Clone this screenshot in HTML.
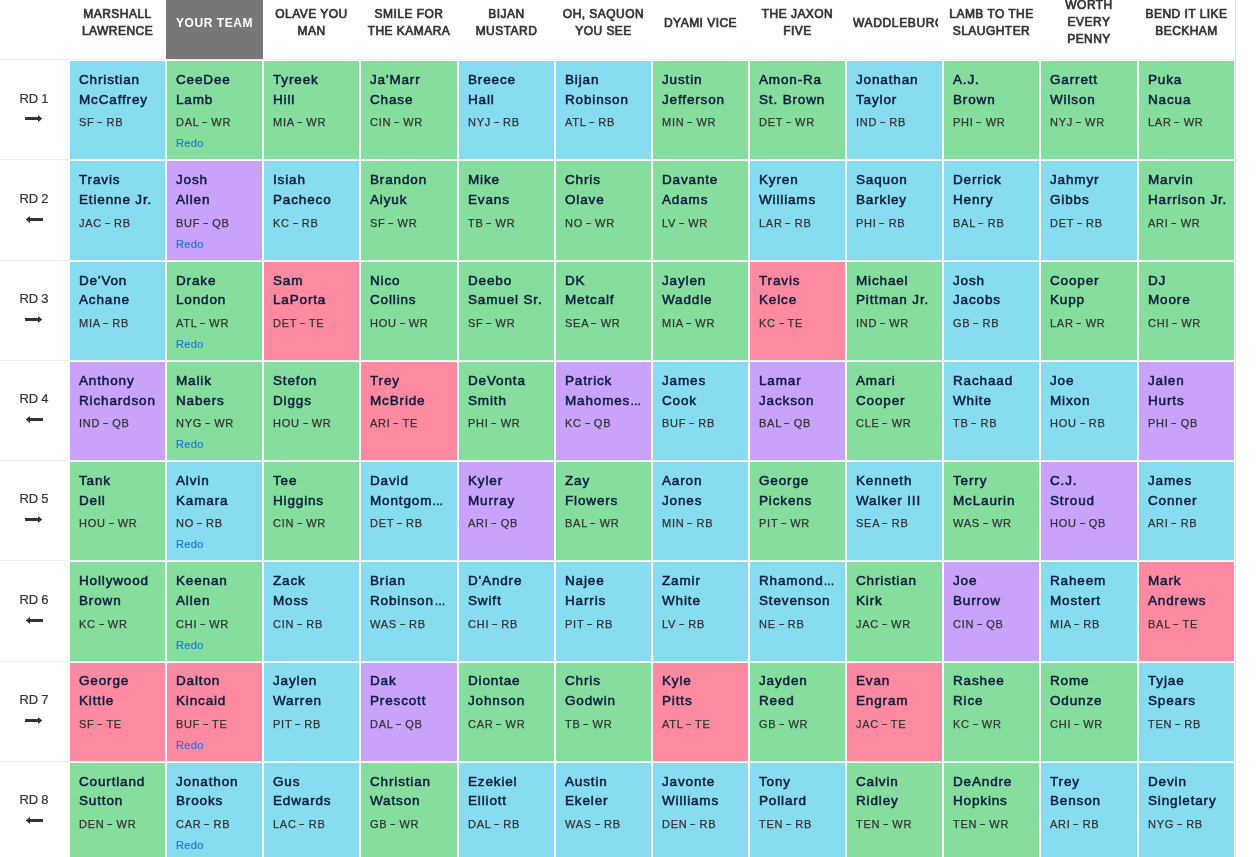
<!DOCTYPE html>
<html lang="en"><head><meta charset="utf-8"><title>Draft Board</title>
<style>
html,body{margin:0;padding:0;background:#fff;}
body{width:1256px;height:857px;overflow:hidden;font-family:"Liberation Sans",sans-serif;}
.board{position:relative;width:1256px;height:857px;overflow:hidden;}
.hline{position:absolute;left:0;width:1235px;height:1px;background:#eef1f3;}
.vline{position:absolute;left:1235px;top:0;width:1px;height:857px;background:#dee2e6;}
.th{position:absolute;top:-15px;height:74px;padding-top:1px !important;display:flex;align-items:center;justify-content:center;text-align:center;overflow:hidden;white-space:nowrap;
 font-size:12px;font-weight:400;letter-spacing:.46px;-webkit-text-stroke:.7px #333;line-height:16.7px;color:#333;box-sizing:border-box;padding:0 5px;}
.th span{display:block;width:100%;text-align:center;overflow:hidden;}
.th.long{letter-spacing:.65px;padding:0 5px 0 7px;}
.th.one span{position:relative;top:1px;}
.th.you{background:#777;color:#fff;font-weight:700;letter-spacing:.55px;-webkit-text-stroke:0;}
.row{position:absolute;left:0;width:1236px;}
.rd{position:absolute;left:0;top:0;width:68px;height:100%;text-align:center;color:#333;}
.rdt{position:absolute;left:0;width:68px;top:var(--lb);font-size:13px;line-height:16px;word-spacing:-.5px;-webkit-text-stroke:.2px #333;}
.ar{position:absolute;left:25px;top:var(--ar);fill:#333;}
.c{position:absolute;top:0;height:100%;overflow:hidden;white-space:nowrap;}
.rb{background:#87dcef;}
.wr{background:#86de9e;}
.qb{background:#c8a2fb;}
.te{background:#fe8aa2;}
.n,.p,.redo{position:absolute;left:9px;}
.n1{top:var(--n1);}
.n2{top:var(--n2);}
.n{font-family:"Liberation Sans", sans-serif;font-size:13.5px;font-weight:400;letter-spacing:0.85px;line-height:20px;color:#0c1c3e;-webkit-text-stroke:0.5px #0c1c3e;}
.p{font-size:11px;letter-spacing:.75px;-webkit-text-stroke:.25px #333;line-height:16px;color:#333;top:var(--p);}
.redo{display:block;font-size:11px;letter-spacing:.35px;line-height:16px;color:#1f74e6;-webkit-text-stroke:.2px #1f74e6;top:var(--rd);}
.e{font-size:11px;letter-spacing:0;}
.sp{word-spacing:-2.5px;}
.h{display:inline-block;transform:scaleX(1.6);-webkit-text-stroke:.3px #333;position:relative;top:-1.5px;}

</style></head>
<body>
<div class="board">
<div class="hline" style="top:59px"></div>
<div class="vline"></div>
<div class="th" style="left:69px;width:97px"><span>MARSHALL<br>LAWRENCE</span></div>
<div class="th you one" style="left:166px;width:97px"><span>YOUR TEAM</span></div>
<div class="th" style="left:263px;width:97px"><span>OLAVE YOU<br>MAN</span></div>
<div class="th" style="left:360px;width:98px"><span>SMILE FOR<br>THE KAMARA</span></div>
<div class="th" style="left:458px;width:97px"><span>BIJAN<br>MUSTARD</span></div>
<div class="th" style="left:555px;width:97px"><span>OH, SAQUON<br>YOU SEE</span></div>
<div class="th one" style="left:652px;width:97px"><span>DYAMI VICE</span></div>
<div class="th" style="left:749px;width:97px"><span>THE JAXON<br>FIVE</span></div>
<div class="th long one" style="left:846px;width:97px"><span>WADDLEBURGER</span></div>
<div class="th" style="left:943px;width:97px"><span>LAMB TO THE<br>SLAUGHTER</span></div>
<div class="th" style="left:1040px;width:98px"><span>WORTH<br>EVERY<br>PENNY</span></div>
<div class="th" style="left:1138px;width:97px"><span>BEND IT LIKE<br>BECKHAM</span></div>
<div class="row" style="top:61px;height:98px;--n1:9px;--n2:29px;--p:53px;--rd:74px;--lb:30px;--ar:54px">
<div class="rd"><div class="rdt">RD 1</div><svg class="ar" viewBox="0 0 18 7" width="18" height="7"><path d="M0 2H13V0L17.3 3.5L13 7V5H0Z"/></svg></div>
<div class="c rb" style="left:70px;width:95px"><div class="n n1">Christian</div><div class="n n2">McCaffrey</div><div class="p">SF <span class="h">-</span> RB</div></div>
<div class="c wr" style="left:167px;width:95px"><div class="n n1">CeeDee</div><div class="n n2">Lamb</div><div class="p">DAL <span class="h">-</span> WR</div><a class="redo">Redo</a></div>
<div class="c wr" style="left:264px;width:95px"><div class="n n1">Tyreek</div><div class="n n2">Hill</div><div class="p">MIA <span class="h">-</span> WR</div></div>
<div class="c wr" style="left:361px;width:96px"><div class="n n1">Ja&#x27;Marr</div><div class="n n2">Chase</div><div class="p">CIN <span class="h">-</span> WR</div></div>
<div class="c rb" style="left:459px;width:95px"><div class="n n1">Breece</div><div class="n n2">Hall</div><div class="p">NYJ <span class="h">-</span> RB</div></div>
<div class="c rb" style="left:556px;width:95px"><div class="n n1">Bijan</div><div class="n n2">Robinson</div><div class="p">ATL <span class="h">-</span> RB</div></div>
<div class="c wr" style="left:653px;width:95px"><div class="n n1">Justin</div><div class="n n2">Jefferson</div><div class="p">MIN <span class="h">-</span> WR</div></div>
<div class="c wr" style="left:750px;width:95px"><div class="n n1">Amon-Ra</div><div class="n n2">St. Brown</div><div class="p">DET <span class="h">-</span> WR</div></div>
<div class="c rb" style="left:847px;width:95px"><div class="n n1">Jonathan</div><div class="n n2">Taylor</div><div class="p">IND <span class="h">-</span> RB</div></div>
<div class="c wr" style="left:944px;width:95px"><div class="n n1">A.J.</div><div class="n n2">Brown</div><div class="p">PHI <span class="h">-</span> WR</div></div>
<div class="c wr" style="left:1041px;width:96px"><div class="n n1">Garrett</div><div class="n n2">Wilson</div><div class="p">NYJ <span class="h">-</span> WR</div></div>
<div class="c wr" style="left:1139px;width:95px"><div class="n n1">Puka</div><div class="n n2">Nacua</div><div class="p">LAR <span class="h">-</span> WR</div></div>
</div>
<div class="hline" style="top:159px"></div>
<div class="row" style="top:161px;height:99px;--n1:9px;--n2:29px;--p:54px;--rd:75px;--lb:30px;--ar:55px">
<div class="rd"><div class="rdt">RD 2</div><svg class="ar" viewBox="0 0 18 7" width="18" height="7"><path d="M18 2H5V0L0.7 3.5L5 7V5H18Z"/></svg></div>
<div class="c rb" style="left:70px;width:95px"><div class="n n1">Travis</div><div class="n n2">Etienne Jr.</div><div class="p">JAC <span class="h">-</span> RB</div></div>
<div class="c qb" style="left:167px;width:95px"><div class="n n1">Josh</div><div class="n n2">Allen</div><div class="p">BUF <span class="h">-</span> QB</div><a class="redo">Redo</a></div>
<div class="c rb" style="left:264px;width:95px"><div class="n n1">Isiah</div><div class="n n2">Pacheco</div><div class="p">KC <span class="h">-</span> RB</div></div>
<div class="c wr" style="left:361px;width:96px"><div class="n n1">Brandon</div><div class="n n2">Aiyuk</div><div class="p">SF <span class="h">-</span> WR</div></div>
<div class="c wr" style="left:459px;width:95px"><div class="n n1">Mike</div><div class="n n2">Evans</div><div class="p">TB <span class="h">-</span> WR</div></div>
<div class="c wr" style="left:556px;width:95px"><div class="n n1">Chris</div><div class="n n2">Olave</div><div class="p">NO <span class="h">-</span> WR</div></div>
<div class="c wr" style="left:653px;width:95px"><div class="n n1">Davante</div><div class="n n2">Adams</div><div class="p">LV <span class="h">-</span> WR</div></div>
<div class="c rb" style="left:750px;width:95px"><div class="n n1">Kyren</div><div class="n n2">Williams</div><div class="p">LAR <span class="h">-</span> RB</div></div>
<div class="c rb" style="left:847px;width:95px"><div class="n n1">Saquon</div><div class="n n2">Barkley</div><div class="p">PHI <span class="h">-</span> RB</div></div>
<div class="c rb" style="left:944px;width:95px"><div class="n n1">Derrick</div><div class="n n2">Henry</div><div class="p">BAL <span class="h">-</span> RB</div></div>
<div class="c rb" style="left:1041px;width:96px"><div class="n n1">Jahmyr</div><div class="n n2">Gibbs</div><div class="p">DET <span class="h">-</span> RB</div></div>
<div class="c wr" style="left:1139px;width:95px"><div class="n n1">Marvin</div><div class="n n2">Harrison Jr.</div><div class="p">ARI <span class="h">-</span> WR</div></div>
</div>
<div class="hline" style="top:260px"></div>
<div class="row" style="top:262px;height:98px;--n1:9px;--n2:28px;--p:53px;--rd:74px;--lb:29px;--ar:54px">
<div class="rd"><div class="rdt">RD 3</div><svg class="ar" viewBox="0 0 18 7" width="18" height="7"><path d="M0 2H13V0L17.3 3.5L13 7V5H0Z"/></svg></div>
<div class="c rb" style="left:70px;width:95px"><div class="n n1">De&#x27;Von</div><div class="n n2">Achane</div><div class="p">MIA <span class="h">-</span> RB</div></div>
<div class="c wr" style="left:167px;width:95px"><div class="n n1">Drake</div><div class="n n2">London</div><div class="p">ATL <span class="h">-</span> WR</div><a class="redo">Redo</a></div>
<div class="c te" style="left:264px;width:95px"><div class="n n1">Sam</div><div class="n n2">LaPorta</div><div class="p">DET <span class="h">-</span> TE</div></div>
<div class="c wr" style="left:361px;width:96px"><div class="n n1">Nico</div><div class="n n2">Collins</div><div class="p">HOU <span class="h">-</span> WR</div></div>
<div class="c wr" style="left:459px;width:95px"><div class="n n1">Deebo</div><div class="n n2">Samuel Sr.</div><div class="p">SF <span class="h">-</span> WR</div></div>
<div class="c wr" style="left:556px;width:95px"><div class="n n1">DK</div><div class="n n2">Metcalf</div><div class="p">SEA <span class="h">-</span> WR</div></div>
<div class="c wr" style="left:653px;width:95px"><div class="n n1">Jaylen</div><div class="n n2">Waddle</div><div class="p">MIA <span class="h">-</span> WR</div></div>
<div class="c te" style="left:750px;width:95px"><div class="n n1">Travis</div><div class="n n2">Kelce</div><div class="p">KC <span class="h">-</span> TE</div></div>
<div class="c wr" style="left:847px;width:95px"><div class="n n1">Michael</div><div class="n n2">Pittman Jr.</div><div class="p">IND <span class="h">-</span> WR</div></div>
<div class="c rb" style="left:944px;width:95px"><div class="n n1">Josh</div><div class="n n2">Jacobs</div><div class="p">GB <span class="h">-</span> RB</div></div>
<div class="c wr" style="left:1041px;width:96px"><div class="n n1">Cooper</div><div class="n n2">Kupp</div><div class="p">LAR <span class="h">-</span> WR</div></div>
<div class="c wr" style="left:1139px;width:95px"><div class="n n1">DJ</div><div class="n n2">Moore</div><div class="p">CHI <span class="h">-</span> WR</div></div>
</div>
<div class="hline" style="top:360px"></div>
<div class="row" style="top:362px;height:98px;--n1:9px;--n2:29px;--p:53px;--rd:74px;--lb:29px;--ar:54px">
<div class="rd"><div class="rdt">RD 4</div><svg class="ar" viewBox="0 0 18 7" width="18" height="7"><path d="M18 2H5V0L0.7 3.5L5 7V5H18Z"/></svg></div>
<div class="c qb" style="left:70px;width:95px"><div class="n n1">Anthony</div><div class="n n2">Richardson</div><div class="p">IND <span class="h">-</span> QB</div></div>
<div class="c wr" style="left:167px;width:95px"><div class="n n1">Malik</div><div class="n n2">Nabers</div><div class="p">NYG <span class="h">-</span> WR</div><a class="redo">Redo</a></div>
<div class="c wr" style="left:264px;width:95px"><div class="n n1">Stefon</div><div class="n n2">Diggs</div><div class="p">HOU <span class="h">-</span> WR</div></div>
<div class="c te" style="left:361px;width:96px"><div class="n n1">Trey</div><div class="n n2">McBride</div><div class="p">ARI <span class="h">-</span> TE</div></div>
<div class="c wr" style="left:459px;width:95px"><div class="n n1">DeVonta</div><div class="n n2">Smith</div><div class="p">PHI <span class="h">-</span> WR</div></div>
<div class="c qb" style="left:556px;width:95px"><div class="n n1">Patrick</div><div class="n n2">Mahomes<span class="e">…</span></div><div class="p">KC <span class="h">-</span> QB</div></div>
<div class="c rb" style="left:653px;width:95px"><div class="n n1">James</div><div class="n n2">Cook</div><div class="p">BUF <span class="h">-</span> RB</div></div>
<div class="c qb" style="left:750px;width:95px"><div class="n n1">Lamar</div><div class="n n2">Jackson</div><div class="p">BAL <span class="h">-</span> QB</div></div>
<div class="c wr" style="left:847px;width:95px"><div class="n n1">Amari</div><div class="n n2">Cooper</div><div class="p">CLE <span class="h">-</span> WR</div></div>
<div class="c rb" style="left:944px;width:95px"><div class="n n1">Rachaad</div><div class="n n2">White</div><div class="p">TB <span class="h">-</span> RB</div></div>
<div class="c rb" style="left:1041px;width:96px"><div class="n n1">Joe</div><div class="n n2">Mixon</div><div class="p">HOU <span class="h">-</span> RB</div></div>
<div class="c qb" style="left:1139px;width:95px"><div class="n n1">Jalen</div><div class="n n2">Hurts</div><div class="p">PHI <span class="h">-</span> QB</div></div>
</div>
<div class="hline" style="top:460px"></div>
<div class="row" style="top:462px;height:98px;--n1:9px;--n2:29px;--p:53px;--rd:74px;--lb:29px;--ar:54px">
<div class="rd"><div class="rdt">RD 5</div><svg class="ar" viewBox="0 0 18 7" width="18" height="7"><path d="M0 2H13V0L17.3 3.5L13 7V5H0Z"/></svg></div>
<div class="c wr" style="left:70px;width:95px"><div class="n n1">Tank</div><div class="n n2">Dell</div><div class="p">HOU <span class="h">-</span> WR</div></div>
<div class="c rb" style="left:167px;width:95px"><div class="n n1">Alvin</div><div class="n n2">Kamara</div><div class="p">NO <span class="h">-</span> RB</div><a class="redo">Redo</a></div>
<div class="c wr" style="left:264px;width:95px"><div class="n n1">Tee</div><div class="n n2">Higgins</div><div class="p">CIN <span class="h">-</span> WR</div></div>
<div class="c rb" style="left:361px;width:96px"><div class="n n1">David</div><div class="n n2">Montgom<span class="e">…</span></div><div class="p">DET <span class="h">-</span> RB</div></div>
<div class="c qb" style="left:459px;width:95px"><div class="n n1">Kyler</div><div class="n n2">Murray</div><div class="p">ARI <span class="h">-</span> QB</div></div>
<div class="c wr" style="left:556px;width:95px"><div class="n n1">Zay</div><div class="n n2">Flowers</div><div class="p">BAL <span class="h">-</span> WR</div></div>
<div class="c rb" style="left:653px;width:95px"><div class="n n1">Aaron</div><div class="n n2">Jones</div><div class="p">MIN <span class="h">-</span> RB</div></div>
<div class="c wr" style="left:750px;width:95px"><div class="n n1">George</div><div class="n n2">Pickens</div><div class="p">PIT <span class="h">-</span> WR</div></div>
<div class="c rb" style="left:847px;width:95px"><div class="n n1">Kenneth</div><div class="n n2">Walker III</div><div class="p">SEA <span class="h">-</span> RB</div></div>
<div class="c wr" style="left:944px;width:95px"><div class="n n1">Terry</div><div class="n n2">McLaurin</div><div class="p">WAS <span class="h">-</span> WR</div></div>
<div class="c qb" style="left:1041px;width:96px"><div class="n n1">C.J.</div><div class="n n2">Stroud</div><div class="p">HOU <span class="h">-</span> QB</div></div>
<div class="c rb" style="left:1139px;width:95px"><div class="n n1">James</div><div class="n n2">Conner</div><div class="p">ARI <span class="h">-</span> RB</div></div>
</div>
<div class="hline" style="top:560px"></div>
<div class="row" style="top:562px;height:99px;--n1:9px;--n2:29px;--p:54px;--rd:75px;--lb:30px;--ar:55px">
<div class="rd"><div class="rdt">RD 6</div><svg class="ar" viewBox="0 0 18 7" width="18" height="7"><path d="M18 2H5V0L0.7 3.5L5 7V5H18Z"/></svg></div>
<div class="c wr" style="left:70px;width:95px"><div class="n n1">Hollywood</div><div class="n n2">Brown</div><div class="p">KC <span class="h">-</span> WR</div></div>
<div class="c wr" style="left:167px;width:95px"><div class="n n1">Keenan</div><div class="n n2">Allen</div><div class="p">CHI <span class="h">-</span> WR</div><a class="redo">Redo</a></div>
<div class="c rb" style="left:264px;width:95px"><div class="n n1">Zack</div><div class="n n2">Moss</div><div class="p">CIN <span class="h">-</span> RB</div></div>
<div class="c rb" style="left:361px;width:96px"><div class="n n1">Brian</div><div class="n n2">Robinson<span class="e sp"> …</span></div><div class="p">WAS <span class="h">-</span> RB</div></div>
<div class="c rb" style="left:459px;width:95px"><div class="n n1">D&#x27;Andre</div><div class="n n2">Swift</div><div class="p">CHI <span class="h">-</span> RB</div></div>
<div class="c rb" style="left:556px;width:95px"><div class="n n1">Najee</div><div class="n n2">Harris</div><div class="p">PIT <span class="h">-</span> RB</div></div>
<div class="c rb" style="left:653px;width:95px"><div class="n n1">Zamir</div><div class="n n2">White</div><div class="p">LV <span class="h">-</span> RB</div></div>
<div class="c rb" style="left:750px;width:95px"><div class="n n1">Rhamond<span class="e">…</span></div><div class="n n2">Stevenson</div><div class="p">NE <span class="h">-</span> RB</div></div>
<div class="c wr" style="left:847px;width:95px"><div class="n n1">Christian</div><div class="n n2">Kirk</div><div class="p">JAC <span class="h">-</span> WR</div></div>
<div class="c qb" style="left:944px;width:95px"><div class="n n1">Joe</div><div class="n n2">Burrow</div><div class="p">CIN <span class="h">-</span> QB</div></div>
<div class="c rb" style="left:1041px;width:96px"><div class="n n1">Raheem</div><div class="n n2">Mostert</div><div class="p">MIA <span class="h">-</span> RB</div></div>
<div class="c te" style="left:1139px;width:95px"><div class="n n1">Mark</div><div class="n n2">Andrews</div><div class="p">BAL <span class="h">-</span> TE</div></div>
</div>
<div class="hline" style="top:661px"></div>
<div class="row" style="top:663px;height:98px;--n1:8px;--n2:28px;--p:53px;--rd:74px;--lb:29px;--ar:54px">
<div class="rd"><div class="rdt">RD 7</div><svg class="ar" viewBox="0 0 18 7" width="18" height="7"><path d="M0 2H13V0L17.3 3.5L13 7V5H0Z"/></svg></div>
<div class="c te" style="left:70px;width:95px"><div class="n n1">George</div><div class="n n2">Kittle</div><div class="p">SF <span class="h">-</span> TE</div></div>
<div class="c te" style="left:167px;width:95px"><div class="n n1">Dalton</div><div class="n n2">Kincaid</div><div class="p">BUF <span class="h">-</span> TE</div><a class="redo">Redo</a></div>
<div class="c rb" style="left:264px;width:95px"><div class="n n1">Jaylen</div><div class="n n2">Warren</div><div class="p">PIT <span class="h">-</span> RB</div></div>
<div class="c qb" style="left:361px;width:96px"><div class="n n1">Dak</div><div class="n n2">Prescott</div><div class="p">DAL <span class="h">-</span> QB</div></div>
<div class="c wr" style="left:459px;width:95px"><div class="n n1">Diontae</div><div class="n n2">Johnson</div><div class="p">CAR <span class="h">-</span> WR</div></div>
<div class="c wr" style="left:556px;width:95px"><div class="n n1">Chris</div><div class="n n2">Godwin</div><div class="p">TB <span class="h">-</span> WR</div></div>
<div class="c te" style="left:653px;width:95px"><div class="n n1">Kyle</div><div class="n n2">Pitts</div><div class="p">ATL <span class="h">-</span> TE</div></div>
<div class="c wr" style="left:750px;width:95px"><div class="n n1">Jayden</div><div class="n n2">Reed</div><div class="p">GB <span class="h">-</span> WR</div></div>
<div class="c te" style="left:847px;width:95px"><div class="n n1">Evan</div><div class="n n2">Engram</div><div class="p">JAC <span class="h">-</span> TE</div></div>
<div class="c wr" style="left:944px;width:95px"><div class="n n1">Rashee</div><div class="n n2">Rice</div><div class="p">KC <span class="h">-</span> WR</div></div>
<div class="c wr" style="left:1041px;width:96px"><div class="n n1">Rome</div><div class="n n2">Odunze</div><div class="p">CHI <span class="h">-</span> WR</div></div>
<div class="c rb" style="left:1139px;width:95px"><div class="n n1">Tyjae</div><div class="n n2">Spears</div><div class="p">TEN <span class="h">-</span> RB</div></div>
</div>
<div class="hline" style="top:761px"></div>
<div class="row" style="top:763px;height:98px;--n1:9px;--n2:28px;--p:53px;--rd:74px;--lb:29px;--ar:54px">
<div class="rd"><div class="rdt">RD 8</div><svg class="ar" viewBox="0 0 18 7" width="18" height="7"><path d="M18 2H5V0L0.7 3.5L5 7V5H18Z"/></svg></div>
<div class="c wr" style="left:70px;width:95px"><div class="n n1">Courtland</div><div class="n n2">Sutton</div><div class="p">DEN <span class="h">-</span> WR</div></div>
<div class="c rb" style="left:167px;width:95px"><div class="n n1">Jonathon</div><div class="n n2">Brooks</div><div class="p">CAR <span class="h">-</span> RB</div><a class="redo">Redo</a></div>
<div class="c rb" style="left:264px;width:95px"><div class="n n1">Gus</div><div class="n n2">Edwards</div><div class="p">LAC <span class="h">-</span> RB</div></div>
<div class="c wr" style="left:361px;width:96px"><div class="n n1">Christian</div><div class="n n2">Watson</div><div class="p">GB <span class="h">-</span> WR</div></div>
<div class="c rb" style="left:459px;width:95px"><div class="n n1">Ezekiel</div><div class="n n2">Elliott</div><div class="p">DAL <span class="h">-</span> RB</div></div>
<div class="c rb" style="left:556px;width:95px"><div class="n n1">Austin</div><div class="n n2">Ekeler</div><div class="p">WAS <span class="h">-</span> RB</div></div>
<div class="c rb" style="left:653px;width:95px"><div class="n n1">Javonte</div><div class="n n2">Williams</div><div class="p">DEN <span class="h">-</span> RB</div></div>
<div class="c rb" style="left:750px;width:95px"><div class="n n1">Tony</div><div class="n n2">Pollard</div><div class="p">TEN <span class="h">-</span> RB</div></div>
<div class="c wr" style="left:847px;width:95px"><div class="n n1">Calvin</div><div class="n n2">Ridley</div><div class="p">TEN <span class="h">-</span> WR</div></div>
<div class="c wr" style="left:944px;width:95px"><div class="n n1">DeAndre</div><div class="n n2">Hopkins</div><div class="p">TEN <span class="h">-</span> WR</div></div>
<div class="c rb" style="left:1041px;width:96px"><div class="n n1">Trey</div><div class="n n2">Benson</div><div class="p">ARI <span class="h">-</span> RB</div></div>
<div class="c rb" style="left:1139px;width:95px"><div class="n n1">Devin</div><div class="n n2">Singletary</div><div class="p">NYG <span class="h">-</span> RB</div></div>
</div>
</div>
</body></html>
